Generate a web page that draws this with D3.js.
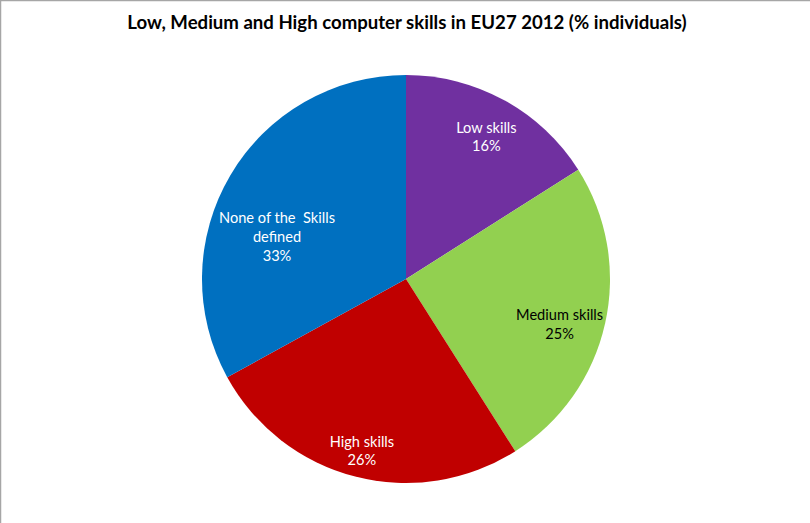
<!DOCTYPE html>
<html><head><meta charset="utf-8">
<script src="https://cdn.jsdelivr.net/npm/d3@7"></script>
<style>body{margin:0;background:#fff}svg{display:block}</style>
</head><body>
<svg id="c" width="810" height="523"></svg>
<script>
const title = "Low, Medium and High computer skills in EU27 2012 (% individuals)";
const categories = ["Low skills", "Medium skills", "High skills", "None of the  Skills defined"];
const labelLines = [["Low skills"], ["Medium skills"], ["High skills"], ["None of the\u00a0\u00a0Skills", "defined"]];
const values = [16, 25, 26, 33];
const colors = ["#7030a0", "#92d050", "#c00000", "#0070c0"];
const textColors = ["#ffffff", "#000000", "#ffffff", "#ffffff"];
// label placement (style): radius fraction and angle shift in degrees
const labelRadius = [0.80, 0.785, 0.87, 0.665];
const labelShift = [0.7, 3.8, 0, -12.6];

const svg = d3.select("#c");
const W = 810, H = 523;
const font = "Lato, 'Open Sans', sans-serif";

svg.append("rect").attr("width", W).attr("height", H).attr("fill", "#fff");
svg.append("line").attr("x1", 0).attr("x2", W).attr("y1", 0.5).attr("y2", 0.5).attr("stroke", "#a6a6a6").attr("stroke-width", 1.5);
svg.append("line").attr("x1", 0.5).attr("x2", 0.5).attr("y1", 0).attr("y2", H).attr("stroke", "#a6a6a6").attr("stroke-width", 1.5);

svg.append("text").attr("x", 407).attr("y", 29).attr("text-anchor", "middle")
  .attr("font-family", font).attr("font-weight", "bold").attr("font-size", 18.6)
  .attr("fill", "#000").text(title);

const cx = 406, cy = 279, R = 204;
const data = categories.map((c, i) => ({c, v: values[i], i}));
const pie = d3.pie().value(d => d.v).sort(null);
const arc = d3.arc().innerRadius(0).outerRadius(R);
const g = svg.append("g").attr("transform", `translate(${cx},${cy})`);
const arcs = pie(data);
g.selectAll("path").data(arcs).join("path").attr("d", arc).attr("fill", d => colors[d.data.i]);

const fmt = d3.format(".0f");
arcs.forEach(a => {
  const i = a.data.i;
  const ang = (a.startAngle + a.endAngle) / 2 + labelShift[i] * Math.PI / 180;
  const r = R * labelRadius[i];
  const x = r * Math.sin(ang), y = -r * Math.cos(ang);
  const lines = labelLines[i].concat([fmt(a.data.v) + "%"]);
  const lh = 18.8;
  const t = g.append("text").attr("text-anchor", "middle").attr("font-family", font)
    .attr("font-size", 14.6).attr("fill", textColors[i]);
  lines.forEach((l, k) => {
    t.append("tspan").attr("x", x).attr("y", y + (k - (lines.length - 1) / 2) * lh + 5).text(l);
  });
});
</script>
</body></html>
